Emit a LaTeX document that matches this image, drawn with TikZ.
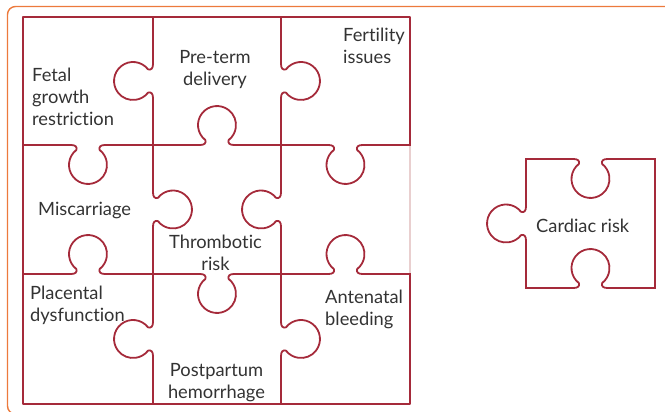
\documentclass[tikz,border=0pt]{standalone}
\usepackage{fontspec}
\setmainfont{Lato}[Ligatures=NoCommon]
\definecolor{puz}{HTML}{A52A3A}
\definecolor{faded}{HTML}{E9CFCF}
\definecolor{framec}{HTML}{EC7A3C}
\definecolor{txt}{HTML}{333333}
\tikzset{
  puzline/.style={draw=puz, line width=1.8pt, line cap=rect, line join=round},
  lbl/.style={inner sep=0pt, text=txt, font=\fontsize{18.3}{22}\selectfont},
}
% #1 cx, #2 cy, #3 rotation, #4 side sign, #5 edge length
\newcommand\pedge[5]{%
  \draw[puzline, shift={(#1,#2)}, rotate=#3, yscale=#4]
    (-#5/2,0) -- (-17,0) .. controls (-12.5,0) and (-10.5,2) .. (-11.7,5)
    arc[start angle=232, end angle=-52, radius=19]
    .. controls (10.5,2) and (12.5,0) .. (17,0) -- (#5/2,0);}
\begin{document}
\begin{tikzpicture}[x=1pt,y=1pt,yscale=-1]
\useasboundingbox (0,0) rectangle (665,412);
\clip (0,0) rectangle (665,412);
% frame
\draw[framec, line width=1.4pt, rounded corners=8pt] (7.5,6.5) rectangle (690,414);
% faded right edge of middle-right cell
\draw[draw=faded, line width=1.8pt] (410,145) -- (410,274);
% outer border
\draw[puzline] (410,145) -- (410,17) -- (23,17) -- (23,404) -- (410,404) -- (410,274);
% vertical internal edges
\pedge{153}{81}{90}{1}{128}
\pedge{153}{209.5}{90}{-1}{129}
\pedge{153}{339}{90}{1}{130}
\pedge{281}{81}{90}{-1}{128}
\pedge{281}{209.5}{90}{1}{129}
\pedge{281}{339}{90}{-1}{130}
% horizontal internal edges
\pedge{88}{145}{0}{1}{130}
\pedge{217}{145}{0}{-1}{128}
\pedge{345.5}{145}{0}{1}{129}
\pedge{88}{274}{0}{-1}{130}
\pedge{217}{274}{0}{1}{128}
\pedge{345.5}{274}{0}{-1}{129}
% cardiac piece
\pedge{526}{223.5}{90}{1}{129}
\pedge{590.5}{159}{0}{1}{129}
\pedge{590.5}{288}{0}{-1}{129}
\draw[puzline] (655,159) -- (655,288);
% labels
\node[lbl, anchor=north west, align=left] (fgr) at (32,68) {Fetal\\growth\\restriction};
\node[lbl, anchor=north, align=center] (ptd) at (215,50) {Pre-term\\delivery};
\node[lbl, anchor=north west, align=left] (fer) at (343,28) {Fertility\\issues};
\node[lbl, anchor=north west, align=left] (mis) at (38,201.5) {Miscarriage};
\node[lbl, anchor=north, align=center] (thr) at (215.5,235) {Thrombotic\\risk};
\node[lbl, anchor=north west, align=left] (pla) at (30,286) {Placental\\dysfunction};
\node[lbl, anchor=north west, align=left] (ant) at (325,290) {Antenatal\\bleeding};
\node[lbl, anchor=north, align=center] (pph) at (216.5,363) {Postpartum\\hemorrhage};
\node[lbl, anchor=north west, align=left] (car) at (536,219) {Cardiac risk};
\end{tikzpicture}
\end{document}
